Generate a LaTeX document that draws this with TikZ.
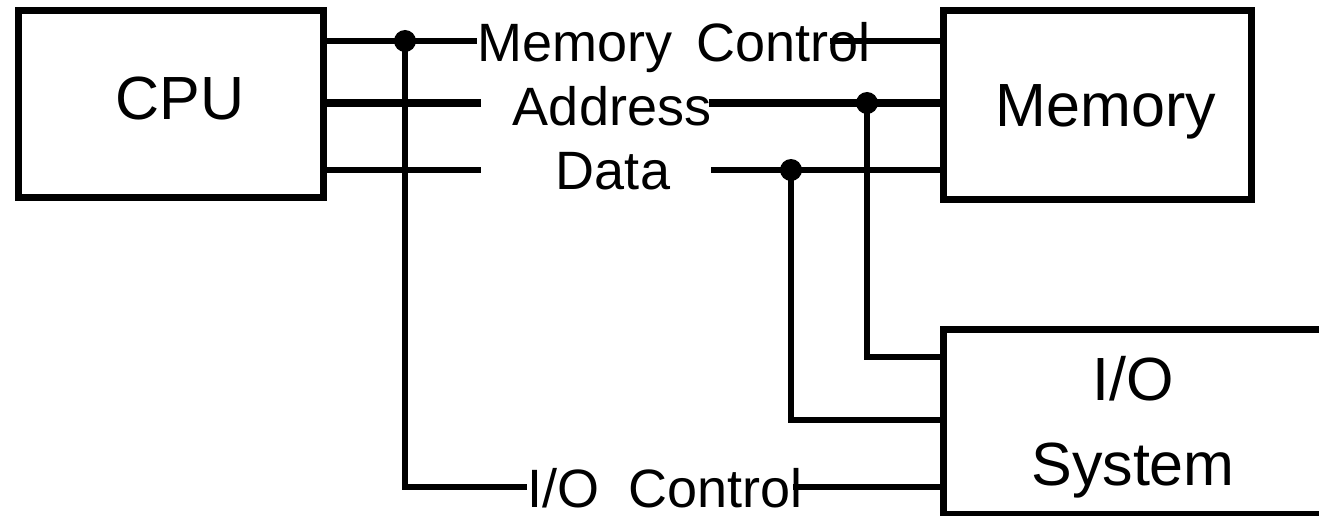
\documentclass[tikz,border=0pt]{standalone}
\usepackage{fontspec}
\setmainfont{Liberation Sans}
\begin{document}
\begin{tikzpicture}[x=1pt,y=-1pt,
  box/.style={draw, line width=7pt, rectangle, inner sep=0pt},
  bus/.style={line width=6pt},
  addrbus/.style={line width=7.5pt},
  buslabel/.style={font=\fontsize{54}{60}\selectfont, inner sep=0pt, anchor=base},
  boxlabel/.style={font=\fontsize{61}{68}\selectfont, inner sep=0pt, anchor=base},
  jdot/.style={circle, fill, inner sep=0pt, minimum size=22pt}]
\useasboundingbox (0,0) rectangle (1319,516);
\clip (0,0) rectangle (1319,516);

% boxes
\node[box, minimum width=305pt, minimum height=186pt] (cpu) at (170.5,104) {};
\node[box, minimum width=308pt, minimum height=188pt] (mem) at (1097,105) {};
\node[box, minimum width=397pt, minimum height=185pt] (io) at (1141.5,421.5) {};

% box labels
\node[boxlabel] (tcpu) at (180,120) {CPU};
\node[boxlabel] (tmem) at (1106,127) {Memory};
\node[boxlabel] (tio) at (1133,400) {I/O};
\node[boxlabel] (tsys) at (1133,485) {System};

% bus labels
\node[buslabel] (lmc) at (674,62) {Memory\hspace{0.45em}Control};
\node[buslabel] (laddr) at (612,126) {Address};
\node[buslabel] (ldata) at (613,189) {Data};
\node[buslabel] (lioc) at (665,507) {I/O\hspace{0.55em}Control};

% junction dots
\node[jdot] (d1) at (405,41) {};
\node[jdot] (d2) at (867,103) {};
\node[jdot] (d3) at (791,170) {};

% free ends and corners
\coordinate (mcR) at (830,41);
\coordinate (aL) at (481,103);
\coordinate (aR) at (709,103);
\coordinate (dL) at (481,170);
\coordinate (dR) at (711,170);
\coordinate (c1) at (405,487);
\coordinate (iocR) at (793,487);
\coordinate (c2) at (867,357);
\coordinate (c3) at (791,420);

% memory control
\draw[bus] (cpu.east |- d1) -- (lmc.west |- d1);
\draw[bus] (mcR) -- (mem.west |- mcR);
% address
\draw[addrbus] (cpu.east |- aL) -- (aL);
\draw[addrbus] (aR) -- (mem.west |- aR);
% data
\draw[bus] (cpu.east |- dL) -- (dL);
\draw[bus] (dR) -- (mem.west |- dR);
% I/O control
\draw[bus] (d1.center) -- (c1) -- (lioc.west |- c1);
\draw[bus] (iocR) -- (io.west |- iocR);
% address to I/O
\draw[bus] (d2.center) -- (c2) -- (io.west |- c2);
% data to I/O
\draw[bus] (d3.center) -- (c3) -- (io.west |- c3);
\end{tikzpicture}
\end{document}
